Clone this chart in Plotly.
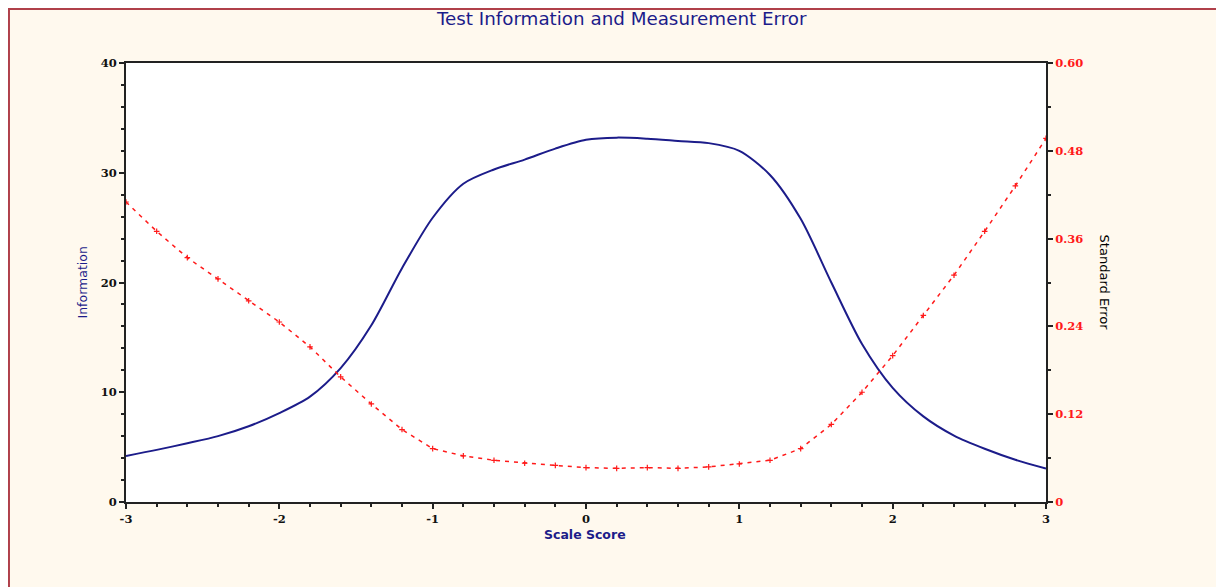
import plotly.graph_objects as go

# Data
scale_score = [-3.0, -2.8, -2.6, -2.4, -2.2, -2.0, -1.8, -1.6, -1.4, -1.2, -1.0,
               -0.8, -0.6, -0.4, -0.2, 0.0, 0.2, 0.4, 0.6, 0.8, 1.0,
               1.2, 1.4, 1.6, 1.8, 2.0, 2.2, 2.4, 2.6, 2.8, 3.0]
information = [4.2, 4.75, 5.35, 6.0, 6.9, 8.1, 9.6, 12.2, 16.1, 21.3, 25.9,
               29.0, 30.3, 31.2, 32.2, 33.0, 33.2, 33.1, 32.9, 32.7, 32.0,
               29.8, 25.8, 20.0, 14.4, 10.4, 7.8, 6.05, 4.85, 3.85, 3.05]
standard_error = [0.41, 0.37, 0.334, 0.305, 0.275, 0.246, 0.212, 0.171, 0.134, 0.099, 0.073,
                  0.063, 0.057, 0.053, 0.050, 0.047, 0.046, 0.047, 0.046, 0.048, 0.052,
                  0.057, 0.073, 0.106, 0.150, 0.200, 0.255, 0.310, 0.370, 0.432, 0.497]

x_ticks = [-3, -2, -1, 0, 1, 2, 3]
x_ticklabels = ["-3", "-2", "-1", "0", "1", "2", "3"]
info_ticks = [0, 10, 20, 30, 40]
se_ticks = [0, 0.12, 0.24, 0.36, 0.48, 0.60]
se_ticklabels = ["0", "0.12", "0.24", "0.36", "0.48", "0.60"]

title_text = "Test Information and Measurement Error"
x_title = "Scale Score"
y_title = "Information"
y2_title = "Standard Error"

NAVY = "#1c1c8a"
RED = "#ff1a1a"
tickfont = dict(family="DejaVu Serif", size=11.5, color="#111", weight="bold")

fig = go.Figure()
fig.add_trace(go.Scatter(
    x=scale_score, y=information, mode="lines",
    line=dict(color=NAVY, width=2, shape="spline", smoothing=0.8),
    showlegend=False, yaxis="y"))
fig.add_trace(go.Scatter(
    x=scale_score, y=standard_error, mode="lines+markers",
    line=dict(color=RED, width=1.5, dash="4px,5px"),
    marker=dict(symbol="cross-thin", size=4, color=RED, line=dict(color=RED, width=1.2)),
    showlegend=False, yaxis="y2"))

fig.update_layout(
    width=1224, height=587,
    margin=dict(l=118, r=186, t=55, b=93),
    paper_bgcolor="#fff9ee",
    plot_bgcolor="white",
    xaxis=dict(range=[-3, 3], tickvals=x_ticks, ticktext=x_ticklabels,
               showgrid=False, zeroline=False, showline=True, linecolor="#222",
               linewidth=2, mirror=True, ticks="outside", ticklen=5, tickwidth=2,
               tickcolor="#222", tickfont=tickfont,
               minor=dict(dtick=0.2, ticklen=3, tickwidth=2, tickcolor="#222",
                          ticks="outside", showgrid=False)),
    yaxis=dict(range=[0, 40], tickvals=info_ticks, showgrid=False, zeroline=False,
               showline=True, linecolor="#222", linewidth=2, ticks="outside",
               ticklen=5, tickwidth=2, tickcolor="#222", tickfont=tickfont,
               minor=dict(dtick=2, ticklen=3, tickwidth=2, tickcolor="#222",
                          ticks="outside", showgrid=False)),
    yaxis2=dict(range=[0, 0.6], tickvals=se_ticks, ticktext=se_ticklabels,
                overlaying="y", side="right", showgrid=False, zeroline=False,
                showline=True, linecolor="#222", linewidth=2, ticks="outside",
                ticklen=5, tickwidth=2, tickcolor="#222",
                tickfont=dict(family="DejaVu Serif", size=11.5, color=RED, weight="bold"),
                minor=dict(dtick=0.06, ticklen=3, tickwidth=2, tickcolor="#222",
                           ticks="outside", showgrid=False)),
    shapes=[dict(type="rect", xref="paper", yref="paper",
                 x0=-0.1272, y0=-2, x1=2, y1=1.123,
                 line=dict(color="#b0404a", width=2), layer="below")],
    annotations=[
        dict(text=title_text, xref="paper", yref="paper", x=0.539, y=1.1025,
             showarrow=False, xanchor="center", yanchor="middle",
             font=dict(family="DejaVu Sans", size=18.3, color=NAVY)),
        dict(text=x_title, xref="paper", yref="paper", x=0.499, y=-0.073,
             showarrow=False, xanchor="center", yanchor="middle",
             font=dict(family="DejaVu Sans", size=12.5, color=NAVY, weight="bold")),
        dict(text=y_title, xref="paper", yref="paper", x=-0.0478, y=0.5,
             showarrow=False, textangle=-90, xanchor="center", yanchor="middle",
             font=dict(family="DejaVu Sans", size=12.5, color=NAVY)),
        dict(text=y2_title, xref="paper", yref="paper", x=1.064, y=0.5,
             showarrow=False, textangle=90, xanchor="center", yanchor="middle",
             font=dict(family="DejaVu Sans", size=13, color="black")),
    ],
)

fig.write_html("out.html")
